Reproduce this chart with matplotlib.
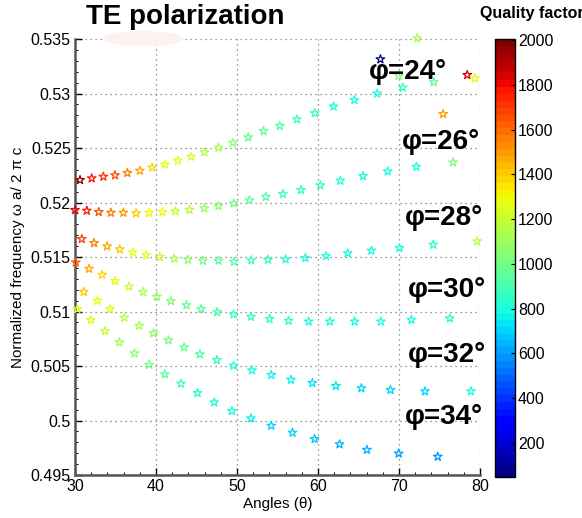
import matplotlib
matplotlib.use("Agg")
import matplotlib.pyplot as plt
import numpy as np
from matplotlib.patches import Ellipse
from matplotlib.ticker import MultipleLocator, AutoMinorLocator
from matplotlib.colors import Normalize
import matplotlib.cm as cm

plt.rcParams['font.family'] = ['Liberation Sans', 'DejaVu Sans']

# ---- data: angle theta (deg), normalized frequency, quality factor ----
theta_24 = [30.62, 32.06, 33.50, 34.94, 36.46, 38.00, 39.52, 41.09, 42.69, 44.34, 45.98, 47.71,
            49.49, 51.38, 53.28, 55.28, 57.40, 59.60, 61.92, 64.49, 67.29, 70.46, 74.29]
freq_24 = [0.52206, 0.52222, 0.52237, 0.52250, 0.52271, 0.52292, 0.52321, 0.52349, 0.52383, 0.52420,
           0.52461, 0.52503, 0.52549, 0.52598, 0.52656, 0.52704, 0.52763, 0.52819, 0.52881, 0.52940,
           0.53000, 0.53055, 0.53104]
q_24 = [1950, 1780, 1720, 1650, 1550, 1480, 1380, 1300, 1260, 1230, 1170, 1120,
        1060, 980, 940, 920, 890, 850, 820, 810, 810, 860, 950]

theta_26 = [30.00, 31.45, 32.93, 34.43, 35.97, 37.54, 39.15, 40.80, 42.40, 44.13, 45.95, 47.71,
            49.59, 51.53, 53.55, 55.67, 57.90, 60.28, 62.76, 65.56, 68.60, 72.15, 76.66]
freq_26 = [0.51931, 0.51925, 0.51913, 0.51906, 0.51906, 0.51901, 0.51906, 0.51913, 0.51920, 0.51933,
           0.51947, 0.51968, 0.51993, 0.52020, 0.52052, 0.52078, 0.52115, 0.52158, 0.52200, 0.52243,
           0.52286, 0.52328, 0.52369]
q_26 = [1800, 1760, 1650, 1560, 1500, 1420, 1330, 1270, 1200, 1150, 1100, 1060,
        1020, 960, 920, 900, 870, 850, 830, 810, 800, 800, 1050]

theta_28 = [30.83, 32.35, 33.96, 35.53, 37.13, 38.78, 40.47, 42.24, 43.93, 45.78, 47.71, 49.62,
            51.76, 53.82, 56.00, 58.43, 60.99, 63.66, 66.59, 70.05, 74.22, 79.65]
freq_28 = [0.51665, 0.51628, 0.51598, 0.51571, 0.51543, 0.51518, 0.51500, 0.51484, 0.51475, 0.51466,
           0.51466, 0.51457, 0.51470, 0.51475, 0.51479, 0.51491, 0.51509, 0.51534, 0.51558, 0.51583,
           0.51613, 0.51644]
q_28 = [1680, 1560, 1480, 1400, 1300, 1250, 1180, 1100, 1060, 1020, 960, 930,
        880, 860, 830, 810, 800, 800, 800, 800, 820, 1150]

theta_30 = [30.09, 31.73, 33.34, 34.94, 36.67, 38.41, 40.10, 41.83, 43.76, 45.57, 47.55, 49.57,
            51.72, 54.02, 56.37, 58.84, 61.46, 64.52, 67.76, 71.53, 76.27]
freq_30 = [0.51450, 0.51392, 0.51337, 0.51280, 0.51228, 0.51179, 0.51136, 0.51095, 0.51058, 0.51023,
           0.50995, 0.50974, 0.50952, 0.50931, 0.50915, 0.50908, 0.50908, 0.50908, 0.50908, 0.50924,
           0.50938]
q_30 = [1620, 1480, 1380, 1280, 1200, 1140, 1080, 1040, 990, 950, 910, 880,
        860, 840, 820, 800, 790, 780, 780, 790, 830]

theta_32 = [31.08, 32.76, 34.33, 36.09, 37.91, 39.68, 41.53, 43.47, 45.41, 47.52, 49.57, 51.84,
            54.23, 56.66, 59.30, 62.20, 65.35, 68.94, 73.20, 78.89]
freq_32 = [0.51179, 0.51099, 0.51023, 0.50943, 0.50870, 0.50800, 0.50736, 0.50672, 0.50607, 0.50555,
           0.50503, 0.50461, 0.50418, 0.50374, 0.50344, 0.50317, 0.50296, 0.50280, 0.50268, 0.50268]
q_32 = [1420, 1300, 1260, 1170, 1120, 1060, 1020, 970, 920, 870, 830, 800,
        770, 750, 730, 720, 710, 700, 690, 800]

theta_34 = [30.28, 31.94, 33.71, 35.48, 37.33, 39.15, 41.09, 43.07, 45.12, 47.18, 49.37, 51.72,
            54.23, 56.85, 59.58, 62.66, 66.03, 69.96, 74.78]
freq_34 = [0.51023, 0.50922, 0.50821, 0.50717, 0.50617, 0.50512, 0.50424, 0.50338, 0.50252, 0.50167,
           0.50087, 0.50020, 0.49952, 0.49888, 0.49830, 0.49782, 0.49731, 0.49697, 0.49668]
q_34 = [1260, 1240, 1180, 1110, 1060, 1000, 940, 880, 840, 810, 790, 760,
        710, 690, 670, 650, 630, 610, 590]

# isolated points of crossing bands
theta_other = [72.24, 67.70, 69.96, 78.42, 79.36, 75.45]
freq_other = [0.53506, 0.53314, 0.53163, 0.53170, 0.53139, 0.52812]
q_other = [1120, 60, 1050, 1850, 1250, 1500]

labels = ['φ=24°', 'φ=26°', 'φ=28°', 'φ=30°', 'φ=32°', 'φ=34°']
label_theta = [71.1, 75.2, 75.6, 75.9, 75.9, 75.6]
label_freq = [0.53195, 0.52555, 0.51860, 0.51200, 0.50605, 0.50030]

q_min, q_max = 45, 2005

# ---- figure ----
fig = plt.figure(figsize=(5.82, 5.18), dpi=100)
ax = fig.add_axes([0.1289, 0.0830, 0.6959, 0.8417])
cax = fig.add_axes([0.8505, 0.0786, 0.0344, 0.8456])

cmap = plt.get_cmap('jet', 64)
norm = Normalize(vmin=q_min, vmax=q_max)

series = [(theta_24, freq_24, q_24), (theta_26, freq_26, q_26), (theta_28, freq_28, q_28),
          (theta_30, freq_30, q_30), (theta_32, freq_32, q_32), (theta_34, freq_34, q_34),
          (theta_other, freq_other, q_other)]
for th, fr, q in series:
    cols = cmap(norm(np.asarray(q)))
    ax.scatter(th, fr, marker='*', s=42, facecolors='none', edgecolors=cols,
               linewidths=0.9, zorder=3, clip_on=False)

ax.set_xlim(30, 80)
ax.set_ylim(0.495, 0.535)
ax.xaxis.set_major_locator(MultipleLocator(10))
ax.yaxis.set_major_locator(MultipleLocator(0.005))
ax.xaxis.set_minor_locator(AutoMinorLocator(5))
ax.yaxis.set_minor_locator(AutoMinorLocator(5))
ax.set_yticklabels([f'{v:g}' for v in ax.get_yticks()])
ax.grid(True, which='major', linestyle=(0, (1, 3)), color='#777777', linewidth=0.9)
for side in ['top', 'right']:
    ax.spines[side].set_visible(False)
for side in ['left', 'bottom']:
    ax.spines[side].set_linewidth(1.8)
    ax.spines[side].set_color('#555555')
ax.tick_params(which='major', direction='in', length=5, width=1.0, labelsize=11.5, pad=3)
ax.tick_params(which='minor', direction='in', length=2.5, width=0.7)

ax.set_xlabel('Angles (θ)', fontsize=11, labelpad=2)
ax.set_ylabel('Normalized frequency ω a/ 2 π c', fontsize=11, labelpad=4)

for lab, tx, ty in zip(labels, label_theta, label_freq):
    ax.text(tx, ty, lab, fontsize=20, fontweight='bold', ha='center', va='center',
            zorder=5, clip_on=False)

sm = cm.ScalarMappable(norm=norm, cmap=cmap)
cb = fig.colorbar(sm, cax=cax)
cb.set_ticks(np.arange(200, 2001, 200))
cb.ax.tick_params(direction='in', length=3, labelsize=11.5, pad=2)
cb.outline.set_linewidth(1.0)

fig.text(0.318, 0.968, 'TE polarization', fontsize=20, fontweight='bold', ha='center', va='center')
fig.text(0.913, 0.973, 'Quality factor', fontsize=11.5, fontweight='bold', ha='center', va='center')

# faint artefact patch near the title in the reference
fig.patches.append(Ellipse((143 / 582, 1 - 38.5 / 518), 82 / 582, 15 / 518,
                           transform=fig.transFigure, facecolor='#fdf2f0', edgecolor='none',
                           zorder=10))

fig.savefig('out.png', dpi=100)
